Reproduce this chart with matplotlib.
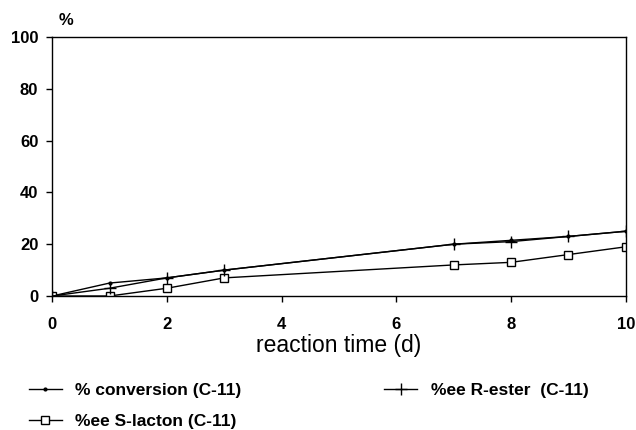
import matplotlib.pyplot as plt
import numpy as np

# data
days        = [0, 1, 2, 3, 7, 8, 9, 10]
conversion  = [0, 5, 7, 10, 20, 21.5, 23, 25]
ee_r_ester  = [0, 3, 7, 10, 20, 21, 23, 25]
ee_s_lacton = [0, 0, 3, 7, 12, 13, 16, 19]

plt.rcParams['font.family'] = ['Liberation Sans', 'DejaVu Sans']

fig = plt.figure(figsize=(6.36, 4.30), dpi=100)
ax = fig.add_axes([0.082, 0.3116, 0.902, 0.6024])

l_conv, = ax.plot(days, conversion, color='black', lw=1, marker='o', ms=2,
                  label='% conversion (C-11)')
l_s, = ax.plot(days, ee_s_lacton, color='black', lw=1, marker='s', ms=6,
               mfc='white', mew=1, label='%ee S-lacton (C-11)')
l_r, = ax.plot(days, ee_r_ester, color='black', lw=1, marker='+', ms=8,
               mew=1, label='%ee R-ester  (C-11)')

ax.set_xlim(0, 10)
ax.set_ylim(0, 100)
ax.set_xticks(np.arange(0, 11, 2))
ax.set_yticks(np.arange(0, 101, 20))
ax.tick_params(direction='out', length=4, width=1, labelsize=12)
ax.tick_params(axis='x', pad=11)
ax.tick_params(axis='y', pad=6)
for lab in ax.get_xticklabels() + ax.get_yticklabels():
    lab.set_fontweight('bold')
for s in ax.spines.values():
    s.set_linewidth(1)

ax.set_xlabel('reaction time (d)', fontsize=16.5)
ax.xaxis.label.set_va('center')
ax.xaxis.set_label_coords(0.5, -0.192)
fig.text(0.092, 0.952, '%', fontsize=12, fontweight='bold', ha='left', va='center')

# legend split in two blocks as in the original
leg_kw = dict(frameon=False, handlelength=1.9, handletextpad=0.8,
              labelspacing=0.95, borderpad=0, borderaxespad=0,
              prop={'weight': 'bold', 'size': 12.5})
leg1 = fig.legend(handles=[l_conv, l_s], loc='upper left',
                  bbox_to_anchor=(0.045, 0.11), **leg_kw)
leg2 = fig.legend(handles=[l_r], loc='upper left',
                  bbox_to_anchor=(0.604, 0.11), **leg_kw)

fig.savefig('out.png', dpi=100)
